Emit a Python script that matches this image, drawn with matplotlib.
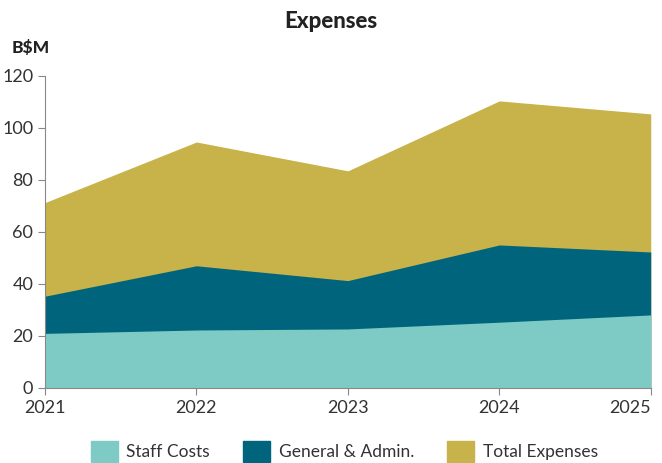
import matplotlib.pyplot as plt
from matplotlib.patches import Patch

years = [2021, 2022, 2023, 2024, 2025]
staff_costs = [21.0, 22.3, 22.7, 25.3, 28.1]
general_admin = [35.3, 47.0, 41.3, 55.0, 52.3]
total_expenses = [71.3, 94.6, 83.5, 110.4, 105.4]

colors = {"staff": "#7ecbc6", "ga": "#00657c", "total": "#c8b24a"}

plt.rcParams['font.family'] = ['Lato', 'DejaVu Sans']

fig = plt.figure(figsize=(6.62, 4.63), dpi=100)
ax = fig.add_axes([0.068, 0.162, 0.915, 0.674])

# overlapping areas, drawn largest first
ax.fill_between(years, 0, total_expenses, color=colors["total"], lw=0)
ax.fill_between(years, 0, general_admin, color=colors["ga"], lw=0)
ax.fill_between(years, 0, staff_costs, color=colors["staff"], lw=0)

ax.set_xlim(2021, 2025)
ax.set_ylim(0, 120)
ax.set_xticks(years)
ax.set_yticks(range(0, 121, 20))
ax.tick_params(labelsize=13, colors="#333333", length=5, color="#888888")
ax.get_xticklabels()[-1].set_ha("right")
for s in ["top", "right"]:
    ax.spines[s].set_visible(False)
for s in ["left", "bottom"]:
    ax.spines[s].set_color("#888888")

fig.text(0.5, 0.953, "Expenses", ha="center", va="center", fontsize=16, fontweight="black", color="#222222")
fig.text(0.018, 0.896, "B$M", ha="left", va="center", fontsize=12.5, fontweight="black", color="#222222")

handles = [Patch(color=colors["staff"], label="Staff Costs"),
           Patch(color=colors["ga"], label="General & Admin."),
           Patch(color=colors["total"], label="Total Expenses")]
fig.legend(handles=handles, loc="center", bbox_to_anchor=(0.52, 0.025), ncol=3, frameon=False,
           fontsize=12.5, handlelength=1.55, handleheight=1.55, handletextpad=0.5,
           columnspacing=1.9, labelcolor="#333333")

fig.savefig("out.png", dpi=100)
